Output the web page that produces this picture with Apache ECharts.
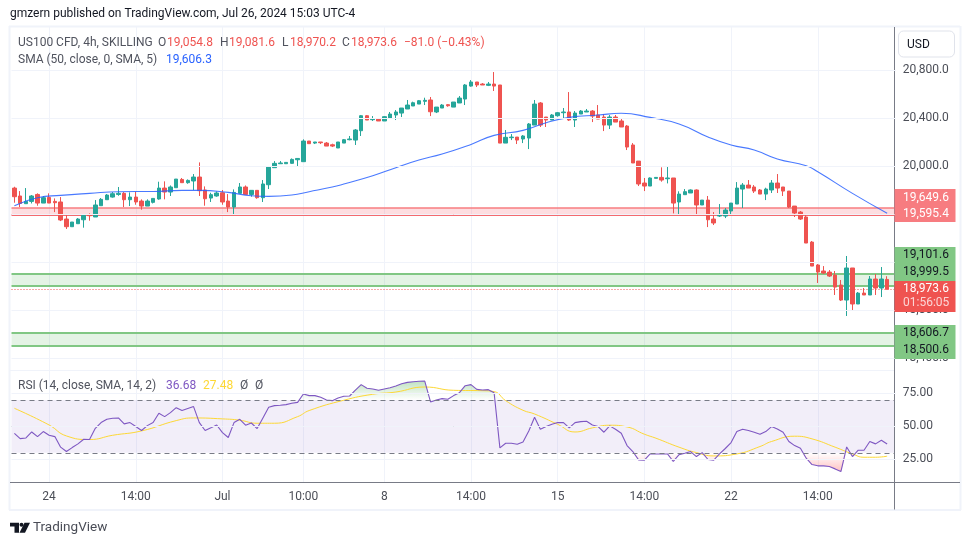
<!DOCTYPE html>
<html><head><meta charset="utf-8">
<style>html,body{margin:0;padding:0;background:#fff}#c{width:970px;height:545px}</style>
<script src="https://cdn.jsdelivr.net/npm/echarts@6/dist/echarts.min.js"></script>
</head><body><div id="c"></div>
<script>
// [open, close, low, high]
const candles = [
[19816,19744,19694,19827],[19750,19688,19658,19791],[19686,19705,19686,19816],[19705,19750,19688,19758],[19763,19691,19669,19772],
[19691,19736,19691,19750],[19738,19691,19691,19772],[19705,19694,19616,19730],[19700,19550,19541,19741],[19558,19494,19475,19597],
[19494,19533,19494,19533],[19519,19558,19519,19566],[19552,19588,19486,19590],[19594,19586,19544,19605],[19575,19675,19575,19716],
[19669,19722,19669,19733],[19719,19758,19719,19766],[19741,19769,19736,19783],[19763,19772,19752,19825],[19772,19719,19658,19783],
[19719,19741,19666,19780],[19741,19700,19677,19786],[19708,19666,19636,19722],[19666,19708,19666,19722],[19697,19730,19688,19730],
[19725,19816,19719,19869],[19816,19783,19722,19872],[19783,19825,19750,19838],[19819,19891,19819,19891],[19888,19861,19861,19900],
[19861,19880,19852,19888],[19875,19908,19800,19933],[19908,19794,19750,20030],[19800,19727,19669,19830],[19733,19761,19700,19777],
[19750,19775,19744,19788],[19777,19700,19677,19800],[19708,19658,19616,19766],[19658,19780,19594,19805],[19772,19825,19772,19858],
[19825,19763,19763,19838],[19763,19797,19744,19797],[19797,19736,19727,19797],[19736,19850,19700,19883],[19844,19991,19808,20000],
[19986,20022,19986,20041],[20019,20025,20019,20041],[20019,20030,20019,20030],[20022,20055,20019,20063],[20052,20063,19994,20066],
[20036,20208,20036,20222],[20208,20186,20186,20208],[20191,20200,20183,20200],[20200,20194,20183,20200],[20191,20166,20166,20200],
[20177,20166,20158,20186],[20150,20200,20150,20200],[20191,20219,20191,20225],[20219,20225,20214,20250],[20216,20300,20175,20308],
[20294,20419,20250,20425],[20419,20383,20383,20425],[20386,20391,20375,20416],[20391,20375,20375,20400],[20375,20411,20375,20416],
[20400,20433,20400,20450],[20425,20450,20383,20466],[20441,20483,20408,20483],[20475,20508,20475,20550],[20500,20527,20500,20536],
[20516,20544,20516,20550],[20539,20547,20508,20569],[20550,20452,20416,20575],[20450,20491,20441,20491],[20483,20508,20483,20516],
[20511,20502,20494,20516],[20491,20533,20491,20533],[20525,20566,20525,20583],[20558,20675,20508,20683],[20666,20700,20661,20716],
[20700,20675,20658,20700],[20683,20675,20675,20691],[20672,20683,20666,20700],[20683,20666,20625,20783],[20675,20191,20191,20675],
[20191,20239,20191,20300],[20236,20241,20216,20266],[20241,20216,20183,20241],[20225,20250,20191,20258],[20233,20350,20141,20358],
[20341,20516,20341,20550],[20525,20341,20325,20533],[20408,20383,20325,20408],[20383,20425,20383,20433],[20419,20444,20411,20450],
[20444,20450,20400,20483],[20450,20383,20375,20616],[20383,20441,20325,20458],[20433,20458,20433,20466],[20450,20458,20450,20475],
[20458,20416,20366,20466],[20425,20391,20391,20508],[20408,20341,20291,20433],[20341,20408,20308,20425],[20408,20366,20366,20425],
[20375,20325,20325,20391],[20333,20158,20133,20341],[20175,20025,20025,20191],[20041,19850,19833,20041],[19858,19833,19791,19900],
[19833,19900,19833,19905],[19897,19905,19897,19905],[19905,19883,19869,19989],[19894,19900,19855,19994],[19900,19691,19605,19900],
[19700,19766,19597,19789],[19761,19786,19761,19808],[19775,19800,19775,19805],[19800,19675,19597,19805],[19675,19716,19675,19716],
[19716,19552,19491,19750],[19558,19525,19508,19616],[19583,19591,19575,19683],[19583,19633,19566,19650],[19625,19691,19600,19691],
[19683,19816,19683,19866],[19808,19841,19650,19858],[19841,19816,19816,19883],[19825,19791,19775,19841],[19800,19766,19766,19808],
[19766,19808,19716,19819],[19800,19858,19775,19883],[19858,19816,19775,19933],[19825,19791,19750,19825],[19791,19658,19650,19791],
[19666,19608,19575,19666],[19616,19558,19550,19625],[19575,19358,19358,19600],[19366,19166,19166,19375],[19175,19116,19025,19183],
[19125,19108,19100,19166],[19116,19083,19075,19133],[19091,18991,18925,19125],[19008,18883,18875,19050],[18883,19150,18750,19250],
[19150,18850,18800,19150],[18850,18941,18850,18950],[18941,18925,18925,18983],[18925,19058,18925,19083],[19058,18983,18925,19100],
[18983,19058,18908,19158],[19054.8,18973.6,18970.2,19081.6]];
// [candle index, value] readings along the SMA curve
const smaReadings = [[0,19669],[4,19736],[8,19755],[13,19772],[18,19786],[24,19788],[29,19797],[32,19797],[37,19780],[41,19752],[44,19747],[48,19758],[51,19786],[55,19825],[57,19850],[62,19919],[66,19986],[70,20050],[74,20100],[79,20180],[83,20255],[88,20297],[92,20361],[96,20405],[101,20425],[105,20439],[110,20405],[115,20350],[120,20242],[124,20175],[128,20133],[132,20058],[137,20002],[139,19952],[145,19772],[151,19606.3]];
const rsiValues = [44.8,40.8,41.3,45.8,42.3,46.1,43.3,42.3,34.3,31.0,34.0,36.8,40.3,40.1,48.6,52.9,55.4,56.2,56.4,51.9,52.9,49.9,46.9,50.6,52.9,59.9,57.4,60.4,64.2,62.0,63.5,65.0,52.9,46.9,48.9,51.1,45.3,41.6,52.9,55.4,50.9,52.6,48.4,56.4,64.5,65.7,66.0,66.5,67.5,68.2,74.5,73.3,73.3,72.0,70.0,69.5,71.5,72.8,73.0,77.5,81.6,78.8,78.3,77.3,78.3,79.3,80.6,82.3,83.3,83.8,84.1,84.3,68.5,70.0,71.0,70.5,73.3,75.5,80.8,81.6,78.0,77.5,77.8,75.5,33.8,37.3,37.3,36.5,38.3,46.6,56.9,47.9,49.9,51.6,52.9,52.9,48.9,52.9,53.6,53.9,51.1,49.9,45.6,50.4,47.9,44.8,35.5,31.0,24.7,24.5,29.2,29.2,29.2,29.2,23.5,28.7,29.7,31.0,27.2,30.2,25.0,24.5,29.2,33.3,37.8,46.1,47.9,46.9,45.6,44.1,46.1,49.9,48.1,45.6,38.6,35.5,33.5,26.0,21.2,20.2,20.2,19.7,17.9,15.9,34.5,27.2,32.0,32.0,38.6,36.8,39.6,36.68];
const rsiMaReadings = [[0,63.7],[6,51.1],[9,42.8],[13,40.1],[17,43.3],[22,46.6],[28,54.4],[31,56.4],[36,55.7],[39,54.7],[42,52.4],[45,52.4],[49,57.4],[51,62.0],[57,69.8],[62,74.3],[66,76.0],[71,79.8],[76,77.3],[81,77.0],[83,76.3],[85,69.5],[88,62.2],[90,59.4],[94,51.6],[97,45.8],[100,48.9],[103,50.9],[106,49.6],[109,44.1],[111,41.1],[115,34.3],[118,30.2],[121,27.7],[125,29.2],[129,34.8],[131,38.6],[135,42.6],[138,40.6],[142,34.3],[145,29.2],[147,26.7],[149,26.7],[151,27.48]];
const timeLabels = {6:'24',21:'14:00',36:'Jul',50:'10:00',64:'8',79:'14:00',94:'15',109:'14:00',124:'22',139:'14:00'};
const categories = Array.from({length:153},(_, i)=>timeLabels[i]||'');
const priceTicks = [20800,20400,20000,19600,19200,18800,18400];
const rsiTicks = [25,50,75];
const redBand = [19649.6,19595.4];
const greenBands = [[19101.6,18999.5],[18606.7,18500.6]];
const lastPrice = 18973.6;

const FONT = 'Roboto';
const FSIZE = 12;
const UP='#26a69a', DOWN='#ef5350', AXT='#4b4e57', GRID='#f0f3fa';
const splitX = {show:true,alignWithLabel:true,interval:(i)=>categories[i]!=='',lineStyle:{color:GRID,width:1}};
const fmtPrice = v=>Number(v).toLocaleString('en-US',{minimumFractionDigits:1,maximumFractionDigits:1});

const T=(x,y,text,fill,extra)=>({type:'text',x,y,z:50,silent:true,style:Object.assign({text,fill,font:FSIZE+'px "'+FONT+'"',verticalAlign:'middle'},extra||{})});
const R=(x,y,w,h,fill,z)=>({type:'rect',z:z||40,silent:true,shape:{x,y,width:w,height:h},style:{fill}});
const L=(x1,y1,x2,y2,stroke,w)=>({type:'line',z:45,silent:true,shape:{x1,y1,x2,y2},style:{stroke,lineWidth:w||1}});

const GREY='#50535e', RED='#ef5350';
const graphics = [
  T(10,13.5,'gmzern published on TradingView.com, Jul 26, 2024 15:03 UTC-4','#131722'),
  // frame
  L(9,26.5,960,26.5,GRID,2),L(9.5,26,9.5,510,GRID,2),L(960.5,26,960.5,510,GRID,2),L(9,510,961,510,GRID,2),
  L(10,370.5,894,370.5,GRID,1),
  R(895,27,65,343,'#fff',41),R(895,371,65,112,'#fff',41),
  L(894.5,27,894.5,509.5,'#787b86',1),L(10,482.5,960,482.5,'#787b86',1),
  // legends
  T(18,42.5,'US100 CFD, 4h, SKILLING',GREY),T(158,42.5,'O',GREY),T(167,42.5,'19,054.8',RED),T(220,42.5,'H',GREY),T(229,42.5,'19,081.6',RED),
  T(282,42.5,'L',GREY),T(290,42.5,'18,970.2',RED),T(342,42.5,'C',GREY),T(351,42.5,'18,973.6',RED),T(404,42.5,'\u221281.0 (\u22120.43%)',RED),
  T(18,59.5,'SMA (50, close, 0, SMA, 5)',GREY),T(166,59.5,'19,606.3','#2962ff'),
  T(18,385.5,'RSI (14, close, SMA, 14, 2)',GREY),T(166,385.5,'36.68','#7e57c2'),T(203,385.5,'27.48','#fdd835'),T(240,385.5,'\u00d8',GREY),T(255,385.5,'\u00d8',GREY),
  // currency box
  {type:'rect',z:46,silent:true,shape:{x:898.5,y:31,width:56,height:26,r:5},style:{fill:'#fff',stroke:'#e0e3eb',lineWidth:1}},
  T(907,44.5,'USD','#131722'),
  // price tags
  R(894.5,189,61,33,'#f77c80',70),T(903,197.5,fmtPrice(redBand[0]),'#fff',{}),T(903,214,fmtPrice(redBand[1]),'#fff'),
  R(894.5,247,61,34,'#81c784',70),T(903,255,fmtPrice(greenBands[0][0]),'#131722'),T(903,271.5,fmtPrice(greenBands[0][1]),'#131722'),
  R(894.5,281,61,31,'#ef5350',70),T(903,289,fmtPrice(lastPrice),'#fff'),T(903,303,'01:56:05','#fbd5d5'),
  R(894.5,325,61,34,'#81c784',70),T(903,333,fmtPrice(greenBands[1][0]),'#131722'),T(903,349.5,fmtPrice(greenBands[1][1]),'#131722'),
  // logo
  {type:'polygon',z:50,silent:true,shape:{points:[[10,522.7],[19,522.7],[19,532.7],[14.5,532.7],[14.5,526.5],[10,526.5]]},style:{fill:'#131722'}},
  {type:'circle',z:50,silent:true,shape:{cx:21.5,cy:524.7,r:2},style:{fill:'#131722'}},
  {type:'polygon',z:50,silent:true,shape:{points:[[24.5,522.7],[30,522.7],[25,532.7],[19.5,532.7]]},style:{fill:'#131722'}},
  T(33,527.5,'TradingView','#4a4d57',{font:'13.5px "'+FONT+'"'})
].map(g=>{ if(g.type==='text'&&g.x>=903&&g.y>=190&&g.y<=350) g.z=71; return g; });

const chart = echarts.init(document.getElementById('c'),null,{renderer:'canvas'});
chart.setOption({
  animation:false,
  backgroundColor:'#fff',
  textStyle:{fontFamily:FONT},
  grid:[
    {left:11.5,top:27,width:884.3,height:343,show:false},
    {left:11.5,top:371,width:884.3,height:111.5,show:false}
  ],
  xAxis:[
    {type:'category',gridIndex:0,data:categories,axisLine:{show:false},axisTick:{show:false},axisLabel:{show:false},splitLine:splitX},
    {type:'category',gridIndex:1,data:categories,axisLine:{show:false},axisTick:{show:false},
     axisLabel:{show:true,interval:0,margin:8,fontSize:FSIZE,color:AXT,fontFamily:FONT},splitLine:splitX}
  ],
  yAxis:[
    {type:'value',gridIndex:0,position:'right',min:18300,max:21158.3,z:60,
     axisLine:{show:false},
     axisTick:{show:false,customValues:priceTicks},
     axisLabel:{show:true,customValues:priceTicks,margin:7,padding:[3,0,0,0],fontSize:FSIZE,color:AXT,fontFamily:FONT,formatter:fmtPrice},
     splitLine:{show:true,lineStyle:{color:GRID,width:1}}},
    {type:'value',gridIndex:1,position:'right',min:7.6,max:91.9,z:60,
     axisLine:{show:false},
     axisTick:{show:false,customValues:rsiTicks},
     axisLabel:{show:true,customValues:rsiTicks,margin:7,padding:[3,0,0,0],fontSize:FSIZE,color:AXT,fontFamily:FONT,formatter:v=>Number(v).toFixed(2)},
     splitLine:{show:true,lineStyle:{color:GRID,width:1}}}
  ],
  series:[
    {type:'line',xAxisIndex:0,yAxisIndex:0,data:[],silent:true,z:1,
     markArea:{silent:true,itemStyle:{color:'rgba(242,54,69,0.17)'},data:[[{yAxis:redBand[0]},{yAxis:redBand[1]}]]},
     markLine:{silent:true,symbol:'none',label:{show:false},animation:false,
       data:[{yAxis:redBand[0],lineStyle:{color:'#f77c80',width:1.5,type:'solid'}},{yAxis:redBand[1],lineStyle:{color:'#f4696e',width:2,type:'solid'}}]}},
    {type:'line',xAxisIndex:0,yAxisIndex:0,data:[],silent:true,z:1,
     markArea:{silent:true,itemStyle:{color:'rgba(76,175,80,0.15)'},data:greenBands.map(b=>[{yAxis:b[0]},{yAxis:b[1]}])},
     markLine:{silent:true,symbol:'none',label:{show:false},animation:false,
       data:greenBands.flat().map(v=>({yAxis:v,lineStyle:{color:'#81c784',width:2,type:'solid'}}))}},
    {type:'candlestick',xAxisIndex:0,yAxisIndex:0,data:candles,barWidth:4,z:5,silent:true,
     itemStyle:{color:UP,color0:DOWN,borderColor:UP,borderColor0:DOWN,borderWidth:1},
     markLine:{silent:true,symbol:'none',label:{show:false},animation:false,
       data:[{yAxis:lastPrice,lineStyle:{color:'#ef5350',width:1,type:[1,2]}}]}},
    {type:'line',xAxisIndex:0,yAxisIndex:0,data:smaReadings,smooth:true,showSymbol:false,symbol:'none',z:6,silent:true,
     lineStyle:{color:'#2962ff',width:1.1,opacity:.85}},
    // RSI pane
    {type:'line',xAxisIndex:1,yAxisIndex:1,data:[],silent:true,z:1,
     markArea:{silent:true,itemStyle:{color:'rgba(126,87,194,0.1)'},data:[[{yAxis:70},{yAxis:30}]]},
     markLine:{silent:true,symbol:'none',label:{show:false},animation:false,
       data:[{yAxis:70,lineStyle:{color:'#787b86',width:1,type:[5,4]}},
             {yAxis:50,lineStyle:{color:'rgba(120,123,134,.55)',width:1,type:[5,4]}},
             {yAxis:30,lineStyle:{color:'#787b86',width:1,type:[5,4]}}]}},
    {type:'line',xAxisIndex:1,yAxisIndex:1,data:rsiValues.map(v=>Math.max(v,70)),showSymbol:false,symbol:'none',z:2,silent:true,
     lineStyle:{width:0},areaStyle:{origin:70,color:new echarts.graphic.LinearGradient(0,0,0,1,[{offset:0,color:'rgba(76,175,80,.5)'},{offset:1,color:'rgba(76,175,80,0)'}])}},
    {type:'line',xAxisIndex:1,yAxisIndex:1,data:rsiValues.map(v=>Math.min(v,30)),showSymbol:false,symbol:'none',z:2,silent:true,
     lineStyle:{width:0},areaStyle:{origin:30,color:new echarts.graphic.LinearGradient(0,0,0,1,[{offset:0,color:'rgba(255,82,82,0)'},{offset:1,color:'rgba(255,82,82,.5)'}])}},
    {type:'line',xAxisIndex:1,yAxisIndex:1,data:rsiMaReadings,smooth:true,showSymbol:false,symbol:'none',z:3,silent:true,
     lineStyle:{color:'#fdd835',width:1}},
    {type:'line',xAxisIndex:1,yAxisIndex:1,data:rsiValues,showSymbol:false,symbol:'none',z:4,silent:true,
     lineStyle:{color:'#7e57c2',width:1.1}}
  ],
  graphic:graphics
});
</script></body></html>
